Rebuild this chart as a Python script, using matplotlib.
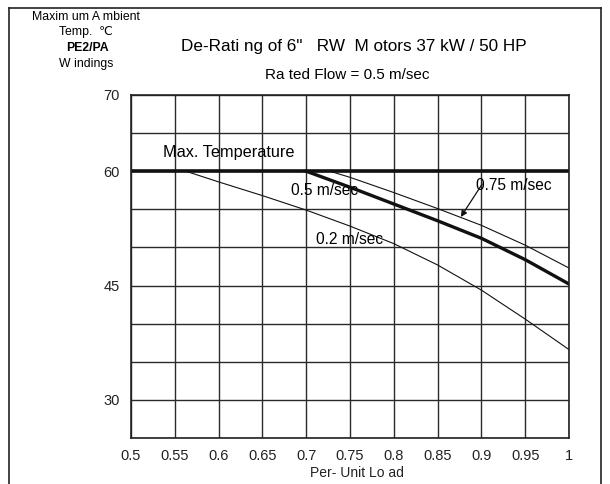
import numpy as np
import matplotlib
matplotlib.use("Agg")
import matplotlib.pyplot as plt
from matplotlib.lines import Line2D

plt.rcParams['font.family'] = ['Liberation Sans', 'DejaVu Sans']

# --------------------------------------------
# Data
# --------------------------------------------
max_temp = 60
max_load = [0.5, 1.0]

load_02 = [0.5626, 0.6, 0.65, 0.7, 0.75, 0.8, 0.85, 0.9, 0.95, 1.0]
temp_02 = [60.0, 58.6, 56.8, 54.9, 52.8, 50.5, 47.7, 44.4, 40.6, 36.6]

load_05 = [0.69, 0.7, 0.75, 0.8, 0.85, 0.9, 0.95, 1.0]
temp_05 = [60.0, 60.0, 57.9, 55.7, 53.5, 51.2, 48.4, 45.2]

load_075 = [0.727, 0.75, 0.8, 0.85, 0.9, 0.95, 1.0]
temp_075 = [60.0, 59.2, 57.2, 55.1, 52.9, 50.3, 47.3]

x_ticks = [0.5, 0.55, 0.6, 0.65, 0.7, 0.75, 0.8, 0.85, 0.9, 0.95, 1.0]
x_tick_labels = ["0.5", "0.55", "0.6", "0.65", "0.7", "0.75", "0.8", "0.85", "0.9", "0.95", "1"]
y_ticks = [25, 30, 35, 40, 45, 50, 55, 60, 65, 70]
y_tick_labels = ["", "30", "", "", "45", "", "", "60", "", "70"]

# --------------------------------------------
# Figure
# --------------------------------------------
fig = plt.figure(figsize=(6.1, 4.84), dpi=100)
ax = fig.add_axes([131 / 610, 1 - 438 / 484, 438 / 610, 343 / 484])

ax.set_xlim(0.5, 1.0)
ax.set_ylim(25, 70)
ax.set_xticks(x_ticks)
ax.set_xticklabels(x_tick_labels, fontsize=10.5, color='#222222')
ax.set_yticks(y_ticks)
ax.set_yticklabels(y_tick_labels, fontsize=10.5, color='#222222')
ax.tick_params(length=0, pad=8)
ax.grid(True, color='#2a2a2a', linewidth=1.0)
ax.set_axisbelow(True)
for s in ax.spines.values():
    s.set_color('#222222')
    s.set_linewidth(1.2)

# curves
ax.plot(max_load, [max_temp, max_temp], color='#111111', linewidth=2.6)
ax.plot(load_02, temp_02, color='#111111', linewidth=0.8)
ax.plot(load_05[:2], temp_05[:2], color='#111111', linewidth=0.8)
ax.plot(load_05[1:], temp_05[1:], color='#111111', linewidth=2.4)
ax.plot(load_075, temp_075, color='#111111', linewidth=0.8)

# labels on curves
ax.text(0.537, 62.4, "Max. Temperature", fontsize=11.7, ha='left', va='center')
ax.text(0.7215, 57.5, "0.5 m/sec", fontsize=11.2, ha='center', va='center')
ax.text(0.749, 51.0, "0.2 m/sec", fontsize=11.2, ha='center', va='center')
ax.text(0.9365, 58.1, "0.75 m/sec", fontsize=11.2, ha='center', va='center')
ax.annotate("", xy=(0.8765, 54.0), xytext=(0.9008, 58.3),
            arrowprops=dict(arrowstyle='-|>', color='#111111', lw=0.9,
                            mutation_scale=9, shrinkA=0, shrinkB=0))

ax.set_xlabel("Per- Unit Lo ad", fontsize=10, color='#222222')
ax.xaxis.set_label_coords(0.515, -0.083)

# titles
fig.text(353.5 / 610, 1 - 47 / 484, "De-Rati ng of 6\"   RW  M otors 37 kW / 50 HP",
         fontsize=12.3, ha='center', va='center')
fig.text(347 / 610, 1 - 75 / 484, "Ra ted Flow = 0.5 m/sec",
         fontsize=11, ha='center', va='center')

# top-left axis caption
fig.text(86 / 610, 1 - 17 / 484, "Maxim um A mbient", fontsize=8.8, ha='center', va='center')
fig.text(86 / 610, 1 - 32 / 484, "Temp.  \u2103", fontsize=8.8, ha='center', va='center')
fig.text(87 / 610, 1 - 48 / 484, "PE2/PA", fontsize=8.8, ha='center', va='center', fontweight='bold')
fig.text(86 / 610, 1 - 64 / 484, "W indings", fontsize=8.8, ha='center', va='center')

# page frame
frame_kw = dict(color='#222222', linewidth=1.2, transform=fig.transFigure)
fig.add_artist(Line2D([9 / 610, 9 / 610], [0, 1 - 8 / 484], **frame_kw))
fig.add_artist(Line2D([9 / 610, 601 / 610], [1 - 8 / 484, 1 - 8 / 484], **frame_kw))
fig.add_artist(Line2D([601 / 610, 601 / 610], [0, 1 - 8 / 484], **frame_kw))

fig.savefig("out.png", dpi=100)
